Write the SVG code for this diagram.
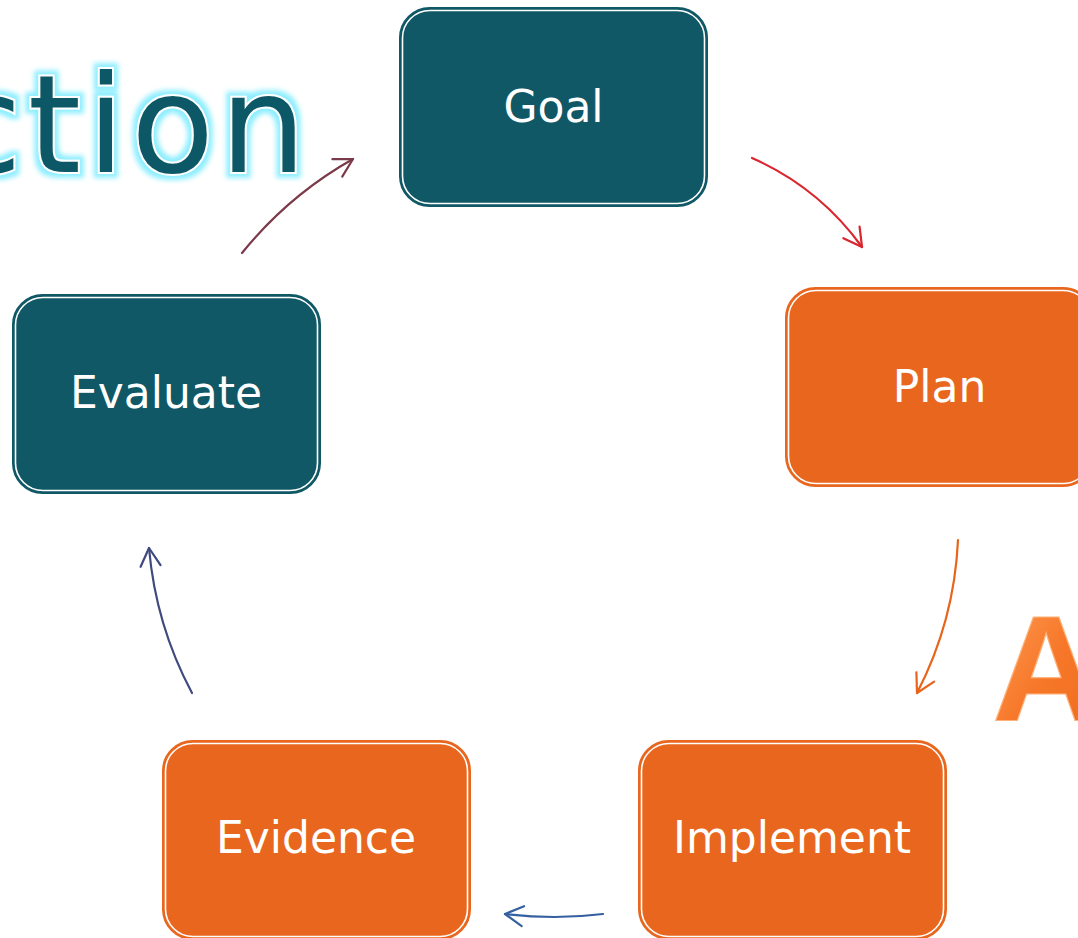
<svg xmlns="http://www.w3.org/2000/svg" width="1078" height="938" viewBox="0 0 1078 938">
<style>
.box-teal{fill:#115866;stroke:#115866;stroke-width:1.5}
.box-orange{fill:#e9661e;stroke:#e9661e;stroke-width:1.5}
.inner{fill:none;stroke:#ffffff;stroke-width:1.6}
.lbl{font-family:"DejaVu Sans",Verdana,sans-serif;font-size:44px;fill:#ffffff;text-anchor:middle}
.conn{fill:none;stroke-width:2.2;stroke-linecap:round}
.head{fill:none;stroke-width:2.2;stroke-linecap:round;stroke-linejoin:round}
</style>
<defs>
<filter id="glow" x="-10%" y="-30%" width="120%" height="160%">
<feMorphology in="SourceAlpha" operator="dilate" radius="4" result="d"/>
<feGaussianBlur in="d" stdDeviation="2.5" result="b"/>
<feFlood flood-color="#8eeeff"/>
<feComposite in2="b" operator="in" result="g"/>
<feMerge><feMergeNode in="g"/><feMergeNode in="SourceGraphic"/></feMerge>
</filter>
<linearGradient id="agrad" x1="0" y1="0" x2="1" y2="1">
<stop offset="0" stop-color="#ffa15a"/>
<stop offset="0.5" stop-color="#f7782a"/>
<stop offset="1" stop-color="#ee6a1c"/>
</linearGradient>
<marker id="m1" markerUnits="userSpaceOnUse" viewBox="-24 -14 28 28" refX="0" refY="0" markerWidth="28" markerHeight="28" orient="auto"><path class="head" stroke="#7b3a4a" d="M-18,-10 L0,0 L-18,10"/></marker>
<marker id="m2" markerUnits="userSpaceOnUse" viewBox="-24 -14 28 28" refX="0" refY="0" markerWidth="28" markerHeight="28" orient="auto"><path class="head" stroke="#d9262e" d="M-18,-10 L0,0 L-18,10"/></marker>
<marker id="m3" markerUnits="userSpaceOnUse" viewBox="-24 -14 28 28" refX="0" refY="0" markerWidth="28" markerHeight="28" orient="auto"><path class="head" stroke="#e8641b" d="M-18,-10 L0,0 L-18,10"/></marker>
<marker id="m4" markerUnits="userSpaceOnUse" viewBox="-24 -14 28 28" refX="0" refY="0" markerWidth="28" markerHeight="28" orient="auto"><path class="head" stroke="#3560a0" d="M-18,-10 L0,0 L-18,10"/></marker>
<marker id="m5" markerUnits="userSpaceOnUse" viewBox="-24 -14 28 28" refX="0" refY="0" markerWidth="28" markerHeight="28" orient="auto"><path class="head" stroke="#404a7e" d="M-18,-10 L0,0 L-18,10"/></marker>
</defs>
<rect width="1078" height="938" fill="#ffffff"/>
<g id="title">
<text x="-53" y="172" font-family="DejaVu Sans,Verdana,sans-serif" font-size="136" letter-spacing="6" fill="#115866" stroke="#ffffff" stroke-width="4" paint-order="stroke" filter="url(#glow)">ction</text>
</g>
<g id="bigA">
<text x="992" y="720" font-family="Liberation Sans,Arial,sans-serif" font-weight="bold" font-size="150" fill="url(#agrad)" stroke="#ffb27a" stroke-width="1.2">A</text>
</g>
<g id="connectors">
<path class="conn" stroke="#7b3a4a" d="M242,253 Q288.5,195.4 353,159" marker-end="url(#m1)"/>
<path class="conn" stroke="#d9262e" d="M752,158 Q819,187.5 862,247" marker-end="url(#m2)"/>
<path class="conn" stroke="#e8641b" d="M958,540 Q954.3,621 917,693" marker-end="url(#m3)"/>
<path class="conn" stroke="#3560a0" d="M603,914 Q555,920 505,914" marker-end="url(#m4)"/>
<path class="conn" stroke="#404a7e" d="M192,693 Q155.7,624.9 149,548" marker-end="url(#m5)"/>
</g>
<g id="goal">
<rect class="box-teal" x="399.75" y="7.75" width="307.5" height="198.5" rx="30"/>
<rect class="inner" x="402.5" y="10.5" width="302" height="193" rx="27.5"/>
<text class="lbl" x="553.5" y="122">Goal</text>
</g>
<g id="plan">
<rect class="box-orange" x="785.75" y="287.75" width="307.5" height="198.5" rx="30"/>
<rect class="inner" x="788.5" y="290.5" width="302" height="193" rx="27.5"/>
<text class="lbl" x="939.5" y="402">Plan</text>
</g>
<g id="evaluate">
<rect class="box-teal" x="12.75" y="294.75" width="307.5" height="198.5" rx="30"/>
<rect class="inner" x="15.5" y="297.5" width="302" height="193" rx="27.5"/>
<text class="lbl" x="166" y="408">Evaluate</text>
</g>
<g id="evidence">
<rect class="box-orange" x="162.75" y="740.75" width="307.5" height="198.5" rx="30"/>
<rect class="inner" x="165.5" y="743.5" width="302" height="193" rx="27.5"/>
<text class="lbl" x="316" y="853">Evidence</text>
</g>
<g id="implement">
<rect class="box-orange" x="638.75" y="740.75" width="307.5" height="198.5" rx="30"/>
<rect class="inner" x="641.5" y="743.5" width="302" height="193" rx="27.5"/>
<text class="lbl" x="792" y="853">Implement</text>
</g>
</svg>
